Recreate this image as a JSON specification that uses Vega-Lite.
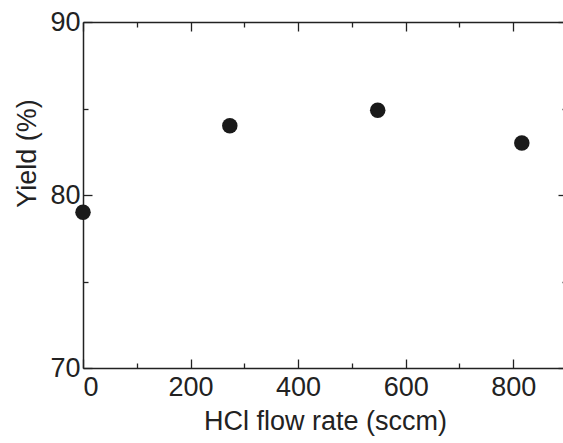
{
  "$schema": "https://vega.github.io/schema/vega-lite/v6.json",
  "width": 484,
  "height": 346,
  "autosize": {"type": "none"},
  "padding": {"left": 83, "top": 22, "right": 0, "bottom": 75},
  "background": "white",
  "config": {
    "view": {"stroke": null},
    "font": "Liberation Sans",
    "axis": {
      "grid": false,
      "domainColor": "#222",
      "domainWidth": 1.5,
      "tickColor": "#222",
      "tickWidth": 1.3,
      "labelColor": "#222",
      "titleColor": "#222",
      "labelFont": "Liberation Sans",
      "titleFont": "Liberation Sans",
      "labelFontSize": 27,
      "titleFontSize": 27,
      "titleFontWeight": "normal"
    }
  },
  "data": {
    "values": [
      {"flow": 0, "yield": 79.0},
      {"flow": 273, "yield": 84.0},
      {"flow": 548, "yield": 84.9},
      {"flow": 816, "yield": 83.0}
    ]
  },
  "layer": [
    {
      "mark": {"type": "point", "filled": true, "shape": "circle", "size": 240, "color": "#1a1a1a", "opacity": 1, "clip": false},
      "encoding": {
        "x": {
          "field": "flow", "type": "quantitative",
          "scale": {"domain": [0, 900], "nice": false, "zero": false},
          "axis": {
            "orient": "bottom",
            "values": [0, 100, 200, 300, 400, 500, 600, 700, 800],
            "labelExpr": "datum.value % 200 === 0 ? datum.label : ''",
            "tickSize": {"condition": {"test": "datum.value % 200 === 0", "value": -9}, "value": -5},
            "labelPadding": 15,
            "title": "HCl flow rate (sccm)",
            "titlePadding": 8
          }
        },
        "y": {
          "field": "yield", "type": "quantitative",
          "scale": {"domain": [70, 90], "nice": false, "zero": false},
          "axis": {
            "orient": "left",
            "values": [70, 75, 80, 85, 90],
            "labelExpr": "datum.value % 10 === 0 ? datum.label : ''",
            "tickSize": {"condition": {"test": "datum.value % 10 === 0", "value": -9}, "value": -5},
            "labelPadding": 12,
            "title": "Yield (%)",
            "titleX": -56,
            "titleY": 131,
            "titleAlign": "center",
            "titleBaseline": "middle",
            "titleAngle": -90
          }
        }
      }
    },
    {
      "mark": {"type": "point", "opacity": 0},
      "encoding": {
        "x": {
          "field": "flow", "type": "quantitative",
          "axis": {
            "orient": "top",
            "values": [0, 100, 200, 300, 400, 500, 600, 700, 800],
            "labels": false,
            "tickSize": {"condition": {"test": "datum.value % 200 === 0", "value": -9}, "value": -5},
            "title": null
          }
        },
        "y": {
          "field": "yield", "type": "quantitative",
          "axis": {
            "orient": "right",
            "values": [70, 75, 80, 85, 90],
            "labels": false,
            "tickSize": {"condition": {"test": "datum.value % 10 === 0", "value": -9}, "value": -5},
            "title": null
          }
        }
      }
    }
  ],
  "resolve": {"axis": {"x": "independent", "y": "independent"}}
}
